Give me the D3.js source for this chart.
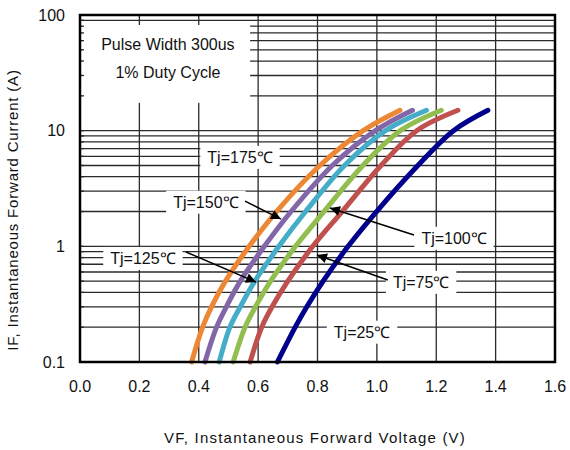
<!DOCTYPE html>
<html>
<head>
<meta charset="utf-8">
<script src="https://cdn.jsdelivr.net/npm/d3@7"></script>
<style>
    body { margin: 0; background: #fff; }
    text { font-family: "Liberation Sans", Arial, sans-serif; fill: #111; }
</style>
</head>
<body>
<svg id="chart" width="570" height="450"></svg>
<script>
// forward current levels (A) the curves were read at
var currents = [0.1, 0.2, 0.3, 0.5, 1, 2, 5, 10, 15];

// forward voltage (V) at each current, per junction temperature
var vf175 = [0.376, 0.413, 0.443, 0.49, 0.57, 0.662, 0.808, 0.954, 1.078],
    vf150 = [0.421, 0.46, 0.493, 0.54, 0.621, 0.711, 0.85, 0.995, 1.12],
    vf125 = [0.469, 0.505, 0.54, 0.589, 0.67, 0.76, 0.891, 1.029, 1.167],
    vf100 = [0.516, 0.556, 0.591, 0.642, 0.726, 0.822, 0.953, 1.079, 1.217],
    vf75 = [0.573, 0.612, 0.647, 0.70, 0.784, 0.883, 1.014, 1.134, 1.273],
    vf25 = [0.665, 0.725, 0.764, 0.819, 0.903, 0.999, 1.138, 1.258, 1.374];

var xTicks = [0, 0.2, 0.4, 0.6, 0.8, 1.0, 1.2, 1.4, 1.6],
    yTicks = [0.1, 1, 10, 100];

var series = [
    { name: "175", v: vf175, color: "#ec8835" },
    { name: "150", v: vf150, color: "#8366a8" },
    { name: "125", v: vf125, color: "#45adc8" },
    { name: "100", v: vf100, color: "#92bd4f" },
    { name: "75", v: vf75, color: "#c0504d" },
    { name: "25", v: vf25, color: "#00008c" }
];

// label anchors in data coords (V, A); arrow tail -> tip
var labels = [
    { text: "Tj=175℃", at: [0.539, 5.9] },
    { text: "Tj=150℃", at: [0.424, 2.42], from: [0.556, 2.46], to: [0.677, 1.72] },
    { text: "Tj=125℃", at: [0.212, 0.79], from: [0.357, 0.894], to: [0.593, 0.491] },
    { text: "Tj=100℃", at: [1.26, 1.18], from: [1.125, 1.253], to: [0.842, 2.145] },
    { text: "Tj=75℃", at: [1.149, 0.491], from: [1.037, 0.512], to: [0.798, 0.842] },
    { text: "Tj=25℃", at: [0.95, 0.182] }
];

var margin = { top: 15, left: 80 },
    width = 475,
    height = 347;

var svg = d3.select("#chart");
var g = svg.append("g")
    .attr("transform", "translate(" + margin.left + "," + margin.top + ")");

var x = d3.scaleLinear().domain([0, 1.6]).range([0, width]),
    y = d3.scaleLog().domain([0.1, 100]).range([height, 0]);

// every 1..9 per decade
var gridVals = [];
[0.1, 1, 10].forEach(function(d) {
    for (var k = 1; k < 10; k++) gridVals.push(d * k);
});
gridVals.push(100);

g.append("g").selectAll("line")
    .data(gridVals).enter()
    .append("line")
    .attr("x1", 0).attr("x2", width)
    .attr("y1", function(d) { return y(d); })
    .attr("y2", function(d) { return y(d); })
    .attr("stroke", "#2a2a2a")
    .attr("stroke-width", 1.3);

g.append("g").selectAll("line")
    .data(xTicks).enter()
    .append("line")
    .attr("x1", function(d) { return x(d); })
    .attr("x2", function(d) { return x(d); })
    .attr("y1", 0).attr("y2", height)
    .attr("stroke", "#2a2a2a")
    .attr("stroke-width", 1.3);

// white box behind the test note
g.append("rect")
    .attr("x", x(0.005)).attr("y", y(82))
    .attr("width", x(0.573) - x(0.005))
    .attr("height", y(17.4) - y(82))
    .attr("fill", "#fff");

// left minor ticks show through the box
g.append("g").selectAll("line")
    .data(gridVals).enter()
    .append("line")
    .attr("x1", 0).attr("x2", 4)
    .attr("y1", function(d) { return y(d); })
    .attr("y2", function(d) { return y(d); })
    .attr("stroke", "#2a2a2a")
    .attr("stroke-width", 1.3);

g.append("text")
    .attr("x", x(0.296)).attr("y", y(50))
    .attr("text-anchor", "middle")
    .style("font-size", "16px")
    .text("Pulse Width 300us");
g.append("text")
    .attr("x", x(0.296)).attr("y", y(28.5))
    .attr("text-anchor", "middle")
    .style("font-size", "16px")
    .text("1% Duty Cycle");

// curves
var line = d3.line()
    .x(function(d) { return x(d[0]); })
    .y(function(d) { return y(d[1]); })
    .curve(d3.curveCatmullRom.alpha(0.5));

g.append("g").selectAll("path")
    .data(series).enter()
    .append("path")
    .attr("d", function(s) {
        return line(s.v.map(function(v, i) { return [v, currents[i]]; }));
    })
    .attr("fill", "none")
    .attr("stroke", function(s) { return s.color; })
    .attr("stroke-width", 5)
    .attr("stroke-linecap", "round");

// labels
svg.append("defs").append("marker")
    .attr("id", "head")
    .attr("viewBox", "0 0 10 10")
    .attr("refX", 10).attr("refY", 5)
    .attr("markerWidth", 13).attr("markerHeight", 10)
    .attr("markerUnits", "userSpaceOnUse")
    .attr("orient", "auto")
    .append("path")
    .attr("d", "M0,0L10,5L0,10Z")
    .attr("fill", "#000");

var lab = g.append("g").selectAll("g")
    .data(labels).enter()
    .append("g");

lab.append("rect").attr("fill", "#fff");
lab.append("text")
    .attr("x", function(d) { return x(d.at[0]); })
    .attr("y", function(d) { return y(d.at[1]); })
    .attr("dy", "0.36em")
    .attr("text-anchor", "middle")
    .style("font-size", "16px")
    .text(function(d) { return d.text; });

lab.each(function() {
    var node = d3.select(this),
        bb = node.select("text").node().getBBox();
    node.select("rect")
        .attr("x", bb.x - 7).attr("y", bb.y - 3)
        .attr("width", bb.width + 14).attr("height", bb.height + 6);
});

lab.filter(function(d) { return d.from; })
    .append("line")
    .attr("x1", function(d) { return x(d.from[0]); })
    .attr("y1", function(d) { return y(d.from[1]); })
    .attr("x2", function(d) { return x(d.to[0]); })
    .attr("y2", function(d) { return y(d.to[1]); })
    .attr("stroke", "#000")
    .attr("stroke-width", 1.5)
    .attr("marker-end", "url(#head)");

// frame
g.append("rect")
    .attr("width", width).attr("height", height)
    .attr("fill", "none")
    .attr("stroke", "#000")
    .attr("stroke-width", 2.5);

// tick labels
g.append("g").selectAll("text")
    .data(xTicks).enter()
    .append("text")
    .attr("x", function(d) { return x(d); })
    .attr("y", height + 30)
    .attr("text-anchor", "middle")
    .style("font-size", "16px")
    .text(function(d) { return d3.format(".1f")(d); });

g.append("g").selectAll("text")
    .data(yTicks).enter()
    .append("text")
    .attr("x", -15)
    .attr("y", function(d) { return y(d); })
    .attr("dy", "0.36em")
    .attr("text-anchor", "end")
    .style("font-size", "16px")
    .text(function(d) { return d; });

// axis titles
svg.append("text")
    .attr("x", 315).attr("y", 443)
    .attr("text-anchor", "middle")
    .style("font-size", "15px")
    .style("letter-spacing", "1.2px")
    .text("VF, Instantaneous Forward  Voltage (V)");

svg.append("text")
    .attr("transform", "translate(18,210) rotate(-90)")
    .attr("text-anchor", "middle")
    .style("font-size", "15px")
    .style("letter-spacing", "0.8px")
    .text("IF, Instantaneous Forward Current (A)");
</script>
</body>
</html>
